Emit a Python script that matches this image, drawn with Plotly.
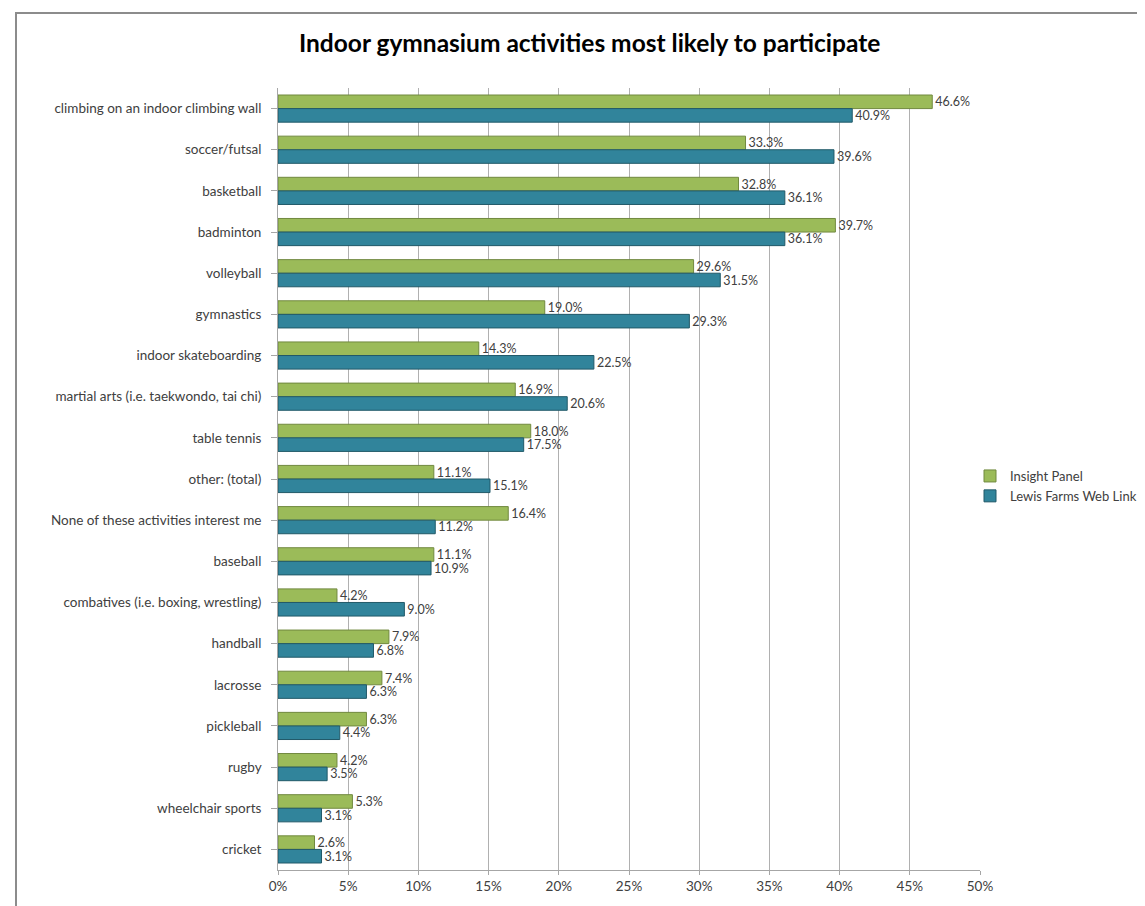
import plotly.graph_objects as go

categories = [
    "climbing on an indoor climbing wall", "soccer/futsal", "basketball", "badminton",
    "volleyball", "gymnastics", "indoor skateboarding",
    "martial arts (i.e. taekwondo, tai chi)", "table tennis", "other: (total)",
    "None of these activities interest me", "baseball",
    "combatives (i.e. boxing, wrestling)", "handball", "lacrosse", "pickleball",
    "rugby", "wheelchair sports", "cricket",
]
insight_panel = [46.6, 33.3, 32.8, 39.7, 29.6, 19.0, 14.3, 16.9, 18.0, 11.1,
                 16.4, 11.1, 4.2, 7.9, 7.4, 6.3, 4.2, 5.3, 2.6]
lewis_farms = [40.9, 39.6, 36.1, 36.1, 31.5, 29.3, 22.5, 20.6, 17.5, 15.1,
               11.2, 10.9, 9.0, 6.8, 6.3, 4.4, 3.5, 3.1, 3.1]
x_ticks = [0, 5, 10, 15, 20, 25, 30, 35, 40, 45, 50]
x_tick_labels = [f"{v}%" for v in x_ticks]

W, H = 1145, 906
L, R, T, B = 270, 173, 80, 44
pw, ph = W - L - R, H - T - B
FONT = "Lato"

fig = go.Figure()
fig.add_trace(go.Bar(
    y=categories, x=insight_panel, orientation="h", name="Insight Panel",
    marker=dict(color="#9BBB59", line=dict(color="#71893F", width=1)),
    texttemplate="%{x:.1f}%", textposition="outside", constraintext="none",
    textfont=dict(family=FONT, size=12.5, color="#404040"), cliponaxis=False,
))
fig.add_trace(go.Bar(
    y=categories, x=lewis_farms, orientation="h", name="Lewis Farms Web Link",
    marker=dict(color="#31849B", line=dict(color="#215968", width=1)),
    texttemplate="%{x:.1f}%", textposition="outside", constraintext="none",
    textfont=dict(family=FONT, size=12.5, color="#404040"), cliponaxis=False,
))

fig.update_layout(
    width=W, height=H,
    margin=dict(l=L, r=R, t=T, b=B, autoexpand=False),
    paper_bgcolor="white", plot_bgcolor="white",
    barmode="group", bargap=0.34, bargroupgap=0,
    title=dict(text="<b>Indoor gymnasium activities most likely to participate</b>",
               x=0.508, xref="container", xanchor="center",
               y=1 - 35 / H, yref="container", yanchor="middle",
               font=dict(family=FONT, size=24.5, color="black")),
    font=dict(family=FONT, size=13.5, color="#404040"),
    legend=dict(x=(962 - L) / pw, xanchor="left", y=(H - B - 478) / ph, yanchor="middle",
                font=dict(family=FONT, size=13, color="#404040"),
                itemwidth=30, tracegroupgap=4, bgcolor="rgba(0,0,0,0)"),
    xaxis=dict(range=[0, 50], tickvals=x_ticks, ticktext=x_tick_labels,
               showgrid=True, gridcolor="#B0B0B0", gridwidth=1,
               showline=True, linecolor="#A6A6A6", linewidth=1,
               ticks="outside", ticklen=4, tickcolor="#A6A6A6",
               tickfont=dict(family=FONT, size=13.5, color="#404040"),
               zeroline=False, fixedrange=True),
    yaxis=dict(autorange="reversed", showline=True, linecolor="#A6A6A6", linewidth=1,
               ticks="outside", ticklen=6, tickcolor="#A6A6A6",
               tickfont=dict(family=FONT, size=13.5, color="#404040"),
               ticksuffix="  ", showgrid=False),
    shapes=[dict(type="rect", xref="paper", yref="paper",
                 x0=(8 - L) / pw, x1=(W + 20 - L) / pw,
                 y0=-(B + 20) / ph, y1=1 + (T - 5) / ph,
                 line=dict(color="#8C8C8C", width=2), fillcolor="rgba(0,0,0,0)",
                 layer="below")],
)

fig.write_html("out.html")
